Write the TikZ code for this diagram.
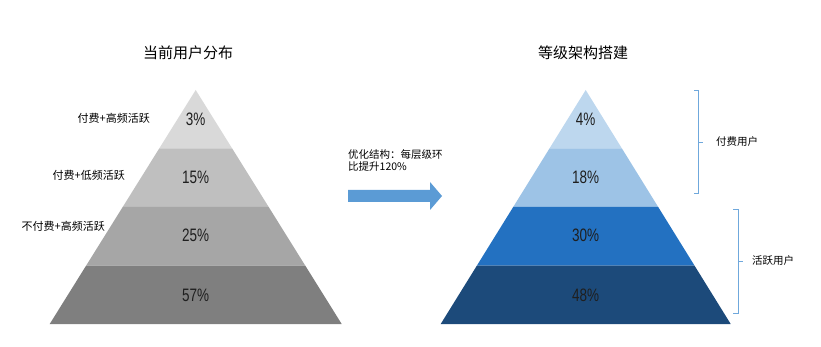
\documentclass[tikz,border=0pt]{standalone}
\usepackage{fontspec}
\setmainfont{Noto Sans CJK SC}
\newfontfamily\pctfont[FakeStretch=0.75]{Liberation Sans}
\usetikzlibrary{positioning}
\definecolor{grayA}{HTML}{D9D9D9}
\definecolor{grayB}{HTML}{BFBFBF}
\definecolor{grayC}{HTML}{A6A6A6}
\definecolor{grayD}{HTML}{7F7F7F}
\definecolor{blueA}{HTML}{BDD7EE}
\definecolor{blueB}{HTML}{9DC3E6}
\definecolor{blueC}{HTML}{2371C1}
\definecolor{blueD}{HTML}{1C4A7A}
\definecolor{arrowblue}{HTML}{5B9BD5}
\definecolor{braceblue}{HTML}{6FA8DC}
\begin{document}
\begin{tikzpicture}[x=1pt, y=-1pt,
    title/.style={font=\fontsize{15}{18}\selectfont},
    tier/.style={font=\fontsize{11}{14}\selectfont, anchor=east, inner sep=0pt},
    pct/.style={font=\pctfont\fontsize{18}{20}\selectfont, text=black!88},
    note/.style={font=\fontsize{10.5}{12}\selectfont, inner sep=0pt, align=left},
    brace/.style={draw=braceblue, line width=0.8pt}]
  \useasboundingbox (0,0) rectangle (821,347);
  % current distribution
  \foreach \i/\c in {0/grayA, 1/grayB, 2/grayC, 3/grayD}
    \fill[\c] ({195.7-36.5*\i},{90+58.5*\i}) -- ({195.7+36.5*\i},{90+58.5*\i})
      -- ({195.7+36.5*(\i+1)},{90+58.5*(\i+1)}) -- ({195.7-36.5*(\i+1)},{90+58.5*(\i+1)}) -- cycle;
  \node[title] (curtitle) at (188,53) {当前用户分布};
  \node[pct] (cur3) at (195.7,119) {3\%};
  \node[pct] (cur15) at (195.7,177) {15\%};
  \node[pct] (cur25) at (195.7,235) {25\%};
  \node[pct] (cur57) at (195.7,295) {57\%};
  \node[tier] (paidhigh) at (150,118) {付费+高频活跃};
  \node[tier] (paidlow) at (125,175) {付费+低频活跃};
  \node[tier] (freehigh) at (105,226) {不付费+高频活跃};
  % arrow
  \node[note, anchor=north west] (optim) at (348,149) {优化结构：每层级环\\比提升120\%};
  \fill[arrowblue] (348,190) -- (430,190) -- (430,182) -- (442,196) -- (430,210)
    -- (430,202) -- (348,202) -- cycle;
  % target levels
  \foreach \i/\c in {0/blueA, 1/blueB, 2/blueC, 3/blueD}
    \fill[\c] ({585.7-36.25*\i},{90+58.5*\i}) -- ({585.7+36.25*\i},{90+58.5*\i})
      -- ({585.7+36.25*(\i+1)},{90+58.5*(\i+1)}) -- ({585.7-36.25*(\i+1)},{90+58.5*(\i+1)}) -- cycle;
  \node[title] (newtitle) at (583,53) {等级架构搭建};
  \node[pct] (new4) at (585.7,119) {4\%};
  \node[pct] (new18) at (585.7,177) {18\%};
  \node[pct] (new30) at (585.7,235) {30\%};
  \node[pct] (new48) at (585.7,295) {48\%};
  % brackets
  \coordinate (paidtop) at (694,90);
  \coordinate (paidbot) at (694,193);
  \coordinate (paidmid) at (698,142);
  \draw[brace] (paidtop) -| (698,193) -- (paidbot);
  \draw[brace] (paidmid) -- ++(5,0) coordinate (paidtick);
  \node[note, anchor=west] (paid) at (716,142) {付费用户};
  \coordinate (acttop) at (733,209);
  \coordinate (actbot) at (733,313);
  \coordinate (actmid) at (738,261);
  \draw[brace] (acttop) -| (738,313) -- (actbot);
  \draw[brace] (actmid) -- ++(5,0) coordinate (acttick);
  \node[note, anchor=west] (active) at (752,261) {活跃用户};
\end{tikzpicture}
\end{document}
